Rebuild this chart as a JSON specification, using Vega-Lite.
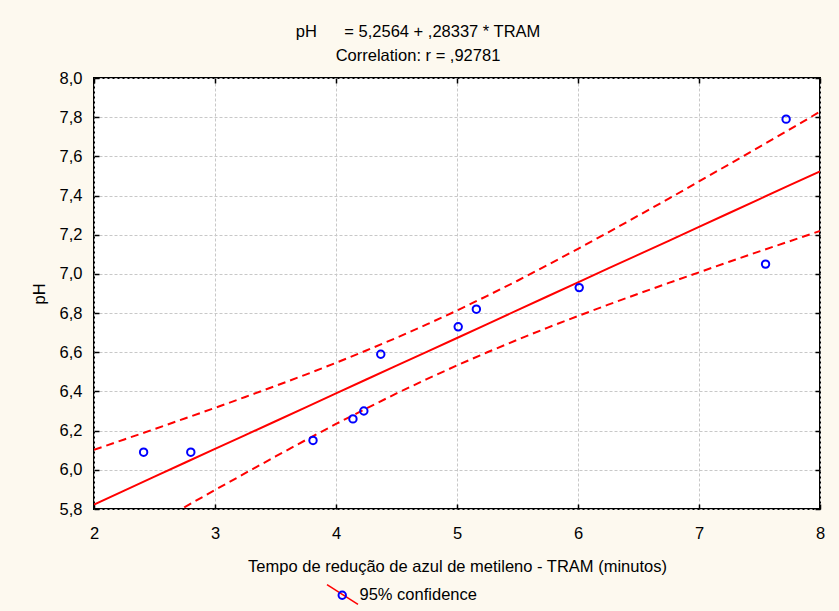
{
  "$schema": "https://vega.github.io/schema/vega-lite/v6.json",
  "width": 726,
  "height": 431,
  "autosize": {"type": "none"},
  "padding": {"left": 94, "top": 78, "right": 19, "bottom": 102},
  "background": "#fdf9ef",
  "config": {
    "locale": {"number": {"decimal": ",", "thousands": ".", "grouping": [3], "currency": ["", ""]}},
    "view": {"fill": "white", "stroke": "black", "strokeWidth": 2},
    "font": "Liberation Sans",
    "axis": {
      "labelFont": "Liberation Sans",
      "labelFontSize": 16.5,
      "labelColor": "black",
      "titleFont": "Liberation Sans",
      "titleFontSize": 16.5,
      "titleFontWeight": "normal",
      "titleColor": "black",
      "domain": false,
      "ticks": true,
      "tickColor": "black",
      "tickSize": -5,
      "tickWidth": 1.5,
      "labelFlush": false,
      "labelOverlap": false,
      "labelBound": false,
      "gridColor": "#c8c8c8",
      "gridDash": [3, 2],
      "gridWidth": 1
    },
    "legend": {
      "labelFont": "Liberation Sans",
      "labelFontSize": 16.5,
      "labelColor": "black"
    }
  },
  "title": {
    "text": ["pH\u00a0\u00a0\u00a0\u00a0\u00a0 = 5,2564 + ,28337 * TRAM", "Correlation: r = ,92781"],
    "anchor": "middle",
    "frame": "group",
    "dx": -39,
    "fontSize": 16.5,
    "fontWeight": "normal",
    "font": "Liberation Sans",
    "color": "black",
    "lineHeight": 23.5,
    "offset": 6
  },
  "datasets": {
    "points": [
      {"TRAM": 2.41, "pH": 6.09},
      {"TRAM": 2.80, "pH": 6.09},
      {"TRAM": 3.81, "pH": 6.15},
      {"TRAM": 4.14, "pH": 6.26},
      {"TRAM": 4.23, "pH": 6.30},
      {"TRAM": 4.37, "pH": 6.59},
      {"TRAM": 5.01, "pH": 6.73},
      {"TRAM": 5.16, "pH": 6.82},
      {"TRAM": 6.01, "pH": 6.93},
      {"TRAM": 7.55, "pH": 7.05},
      {"TRAM": 7.72, "pH": 7.79}
    ],
    "fit": [
      {"TRAM": 2.00, "fit": 5.823, "upper": 6.102, "lower": 5.544},
      {"TRAM": 2.25, "fit": 5.894, "upper": 6.155, "lower": 5.633},
      {"TRAM": 2.50, "fit": 5.965, "upper": 6.208, "lower": 5.722},
      {"TRAM": 2.75, "fit": 6.036, "upper": 6.262, "lower": 5.810},
      {"TRAM": 3.00, "fit": 6.107, "upper": 6.316, "lower": 5.897},
      {"TRAM": 3.25, "fit": 6.177, "upper": 6.372, "lower": 5.983},
      {"TRAM": 3.50, "fit": 6.248, "upper": 6.428, "lower": 6.068},
      {"TRAM": 3.75, "fit": 6.319, "upper": 6.486, "lower": 6.152},
      {"TRAM": 4.00, "fit": 6.390, "upper": 6.546, "lower": 6.234},
      {"TRAM": 4.25, "fit": 6.461, "upper": 6.609, "lower": 6.313},
      {"TRAM": 4.50, "fit": 6.532, "upper": 6.674, "lower": 6.390},
      {"TRAM": 4.75, "fit": 6.602, "upper": 6.742, "lower": 6.463},
      {"TRAM": 5.00, "fit": 6.673, "upper": 6.813, "lower": 6.533},
      {"TRAM": 5.25, "fit": 6.744, "upper": 6.888, "lower": 6.600},
      {"TRAM": 5.50, "fit": 6.815, "upper": 6.965, "lower": 6.664},
      {"TRAM": 5.75, "fit": 6.886, "upper": 7.046, "lower": 6.726},
      {"TRAM": 6.00, "fit": 6.957, "upper": 7.128, "lower": 6.785},
      {"TRAM": 6.25, "fit": 7.028, "upper": 7.212, "lower": 6.843},
      {"TRAM": 6.50, "fit": 7.098, "upper": 7.298, "lower": 6.899},
      {"TRAM": 6.75, "fit": 7.169, "upper": 7.384, "lower": 6.954},
      {"TRAM": 7.00, "fit": 7.240, "upper": 7.472, "lower": 7.008},
      {"TRAM": 7.25, "fit": 7.311, "upper": 7.560, "lower": 7.062},
      {"TRAM": 7.50, "fit": 7.382, "upper": 7.649, "lower": 7.115},
      {"TRAM": 7.75, "fit": 7.453, "upper": 7.738, "lower": 7.167},
      {"TRAM": 8.00, "fit": 7.523, "upper": 7.828, "lower": 7.219}
    ]
  },
  "resolve": {"axis": {"x": "independent", "y": "independent"}},
  "layer": [
    {
      "data": {"name": "fit"},
      "mark": {"type": "line", "color": "#ff0000", "strokeWidth": 2, "strokeDash": [8, 5], "clip": true},
      "encoding": {
        "x": {"field": "TRAM", "type": "quantitative", "scale": {"domain": [2, 8], "nice": false, "zero": false},
          "axis": {"grid": true, "values": [2, 3, 4, 5, 6, 7, 8], "labelPadding": 21,
            "title": "Tempo de redução de azul de metileno - TRAM (minutos)", "titlePadding": 17}},
        "y": {"field": "upper", "type": "quantitative", "scale": {"domain": [5.8, 8.0], "nice": false, "zero": false},
          "axis": {"grid": true, "values": [5.8, 6.0, 6.2, 6.4, 6.6, 6.8, 7.0, 7.2, 7.4, 7.6, 7.8, 8.0], "format": ".1f", "labelPadding": 17,
            "title": "pH", "titlePadding": 12}}
      }
    },
    {
      "data": {"name": "fit"},
      "mark": {"type": "line", "color": "#ff0000", "strokeWidth": 2, "strokeDash": [8, 5], "clip": true},
      "encoding": {
        "x": {"field": "TRAM", "type": "quantitative", "axis": null},
        "y": {"field": "lower", "type": "quantitative", "axis": null}
      }
    },
    {
      "data": {"name": "fit"},
      "mark": {"type": "line", "strokeWidth": 2, "clip": true},
      "encoding": {
        "x": {"field": "TRAM", "type": "quantitative",
          "axis": {"orient": "top", "labels": false, "grid": false, "title": null, "values": [2, 3, 4, 5, 6, 7, 8]}},
        "y": {"field": "fit", "type": "quantitative",
          "axis": {"orient": "right", "labels": false, "grid": false, "title": null, "values": [5.8, 6.0, 6.2, 6.4, 6.6, 6.8, 7.0, 7.2, 7.4, 7.6, 7.8, 8.0]}},
        "color": {"datum": " ", "scale": {"range": ["#ff0000"]},
          "legend": {"orient": "none", "legendX": 232, "legendY": 500, "title": null, "symbolType": "M-1,-0.64L1,0.64", "symbolSize": 961, "symbolStrokeWidth": 1.5, "labelExpr": "''"}}
      }
    },
    {
      "data": {"name": "points"},
      "mark": {"type": "point", "shape": "circle", "filled": false, "color": "#0000ff", "strokeWidth": 2, "size": 55, "opacity": 1},
      "encoding": {
        "x": {"field": "TRAM", "type": "quantitative", "axis": null},
        "y": {"field": "pH", "type": "quantitative", "axis": null},
        "shape": {"datum": "95% confidence", "scale": {"range": ["circle"]},
          "legend": {"orient": "none", "legendX": 240, "legendY": 509, "title": null, "symbolStrokeColor": "#0000ff", "symbolFillColor": "transparent", "symbolStrokeWidth": 2, "symbolSize": 55, "symbolOpacity": 1, "labelOffset": 9}}
      }
    }
  ]
}
